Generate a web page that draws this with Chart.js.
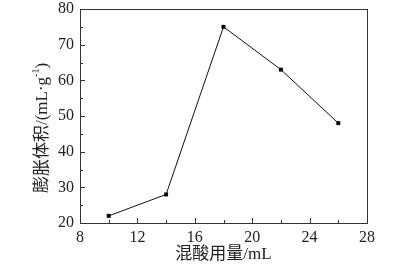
<!DOCTYPE html>
<html>
<head>
<meta charset="utf-8">
<script src="https://cdn.jsdelivr.net/npm/chart.js@4/dist/chart.umd.min.js"></script>
<style>
  html, body { margin: 0; padding: 0; background: #fff; }
  #wrap { width: 398px; height: 275px; }
</style>
</head>
<body>
<div id="wrap"><canvas id="myChart" width="398" height="275"></canvas></div>
<script>
// datos
const acidVolume = [10, 14, 18, 22, 26];      // 混酸用量 / mL
const swellVolume = [22, 28, 75, 63, 48];     // 膨胀体积 / (mL·g-1)
const xTicks = [8, 12, 16, 20, 24, 28];
const yTicks = [20, 30, 40, 50, 60, 70, 80];

const numFont = '"Liberation Serif", "Times New Roman", serif';
const cjkFont = '"Liberation Serif", "Noto Sans CJK SC", serif';

// marco, ticks hacia dentro y titulos de ejes
const axisPlugin = {
  id: 'axisExtras',
  afterDraw(chart) {
    const { ctx, chartArea: a, scales } = chart;
    const xs = scales.x, ys = scales.y;
    ctx.save();
    ctx.strokeStyle = '#333';
    ctx.lineWidth = 1;
    ctx.strokeRect(Math.round(a.left) + 0.5, Math.round(a.top) + 0.5,
      Math.round(a.right - a.left), Math.round(a.bottom - a.top));
    ctx.beginPath();
    for (let v = 8; v <= 28; v += 2) {
      const px = Math.round(xs.getPixelForValue(v)) + 0.5;
      const len = (v % 4 === 0) ? 5 : 3;
      ctx.moveTo(px, a.bottom);
      ctx.lineTo(px, a.bottom - len);
    }
    for (let v = 20; v <= 80; v += 5) {
      const py = Math.round(ys.getPixelForValue(v)) + 0.5;
      const len = (v % 10 === 0) ? 5 : 3;
      ctx.moveTo(a.left, py);
      ctx.lineTo(a.left + len, py);
    }
    ctx.stroke();

    // titulo eje x
    ctx.fillStyle = '#222';
    ctx.textBaseline = 'middle';
    ctx.textAlign = 'center';
    ctx.font = '17px ' + cjkFont;
    ctx.fillText('混酸用量/mL', (a.left + a.right) / 2, 255);

    // titulo eje y con superindice
    ctx.translate(43, 128);
    ctx.rotate(-Math.PI / 2);
    const main = '膨胀体积/(mL·g';
    ctx.font = '17px ' + cjkFont;
    const w1 = ctx.measureText(main).width;
    ctx.font = '10px ' + numFont;
    const w2 = ctx.measureText('-1').width;
    ctx.font = '17px ' + cjkFont;
    const w3 = ctx.measureText(')').width;
    let x0 = -(w1 + w2 + w3) / 2;
    ctx.textAlign = 'left';
    ctx.fillText(main, x0, 0);
    ctx.font = '10px ' + numFont;
    ctx.fillText('-1', x0 + w1, -7);
    ctx.font = '17px ' + cjkFont;
    ctx.fillText(')', x0 + w1 + w2, 0);
    ctx.restore();
  }
};

new Chart(document.getElementById('myChart'), {
  type: 'scatter',
  data: {
    datasets: [{
      data: acidVolume.map((x, i) => ({ x: x, y: swellVolume[i] })),
      showLine: true,
      borderColor: '#111',
      borderWidth: 1,
      backgroundColor: '#000',
      pointStyle: 'rect',
      pointRadius: 2.8,
      pointBorderWidth: 0,
      tension: 0
    }]
  },
  options: {
    responsive: false,
    animation: false,
    events: [],
    layout: { padding: { top: 9, right: 31, left: 0, bottom: 0 } },
    plugins: { legend: { display: false }, tooltip: { enabled: false } },
    scales: {
      x: {
        type: 'linear',
        min: 8, max: 28,
        afterFit(s) { s.height = 52; s.paddingLeft = 0; s.paddingRight = 0; },
        afterBuildTicks(s) { s.ticks = xTicks.map(v => ({ value: v })); },
        grid: { drawOnChartArea: false, drawTicks: false, color: '#333' },
        border: { display: false },
        ticks: { padding: 5, color: '#222', font: { family: numFont, size: 16 } }
      },
      y: {
        type: 'linear',
        min: 20, max: 80,
        afterFit(s) { s.width = 80; s.paddingTop = 0; s.paddingBottom = 0; },
        afterBuildTicks(s) { s.ticks = yTicks.map(v => ({ value: v })); },
        grid: { drawOnChartArea: false, drawTicks: false, color: '#333' },
        border: { display: false },
        ticks: { padding: 6, color: '#222', font: { family: numFont, size: 16 } }
      }
    }
  },
  plugins: [axisPlugin]
});
</script>
</body>
</html>
